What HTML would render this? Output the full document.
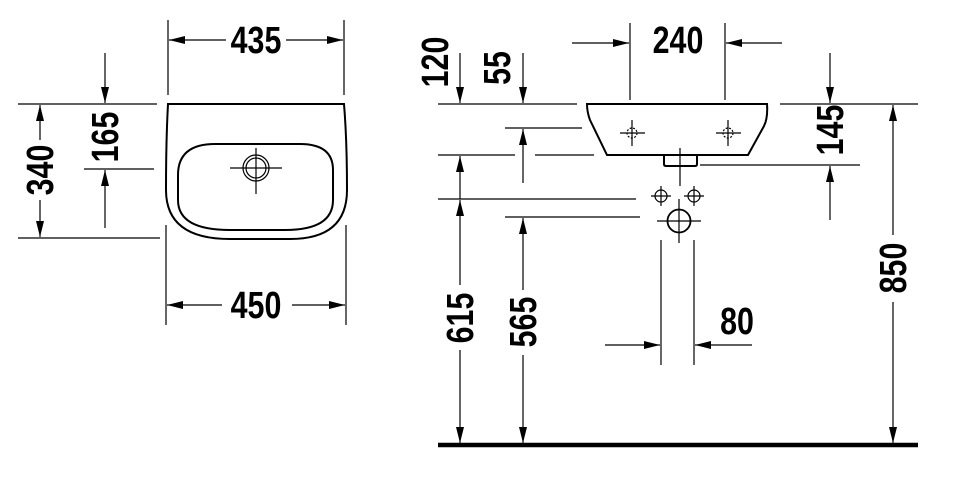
<!DOCTYPE html>
<html><head><meta charset="utf-8"><style>
html,body{margin:0;padding:0;background:#fff;}
svg{display:block;}
text{font-family:"Liberation Sans Narrow","Liberation Sans",sans-serif;font-weight:bold;font-size:38px;fill:#000;}
</style></head><body>
<svg width="960" height="488" viewBox="0 0 960 488" xmlns="http://www.w3.org/2000/svg">
<defs>
<marker id="a" viewBox="0 0 16 8" refX="16" refY="4" markerWidth="16" markerHeight="8" markerUnits="userSpaceOnUse" orient="auto">
<path d="M0,0 L16,4 L0,8 Z" fill="#000"/></marker>
</defs>
<g stroke="#000" stroke-width="1.2" fill="none">
<line x1="168" y1="20" x2="168" y2="95"/><line x1="344" y1="20" x2="344" y2="95"/>
<line x1="226" y1="40" x2="169" y2="40" marker-end="url(#a)"/>
<line x1="286" y1="40" x2="343" y2="40" marker-end="url(#a)"/>
<line x1="166" y1="225" x2="166" y2="325"/><line x1="346" y1="225" x2="346" y2="325"/>
<line x1="222" y1="305" x2="167" y2="305" marker-end="url(#a)"/>
<line x1="292" y1="305" x2="345" y2="305" marker-end="url(#a)"/>
<line x1="18" y1="104" x2="157" y2="104"/><line x1="18" y1="238" x2="160" y2="238"/>
<line x1="40" y1="140" x2="40" y2="105" marker-end="url(#a)"/>
<line x1="40" y1="200" x2="40" y2="237" marker-end="url(#a)"/>
<line x1="105" y1="53" x2="105" y2="103" marker-end="url(#a)"/>
<line x1="84" y1="169" x2="154" y2="169"/>
<line x1="105" y1="228" x2="105" y2="170" marker-end="url(#a)"/>
<path stroke-width="2" d="M168,104 L344,104 Q347,140 347,190 Q347,239 290,239 L230,239 Q166,239 166,190 Q166,140 168,104 Z"/>
<path stroke-width="2" d="M215,144 Q178,144 178,175 L178,200 Q178,230 230,230 L285,230 Q333,230 333,200 L333,170 Q333,144 300,144 Z"/>
<circle cx="256" cy="168" r="13"/><circle cx="256" cy="168" r="10"/>
<line x1="230" y1="168" x2="282" y2="168"/><line x1="256" y1="148" x2="256" y2="194"/>

<line x1="630" y1="23" x2="630" y2="100"/><line x1="725" y1="23" x2="725" y2="100"/>
<line x1="572" y1="43" x2="629" y2="43" marker-end="url(#a)"/>
<line x1="782" y1="43" x2="726" y2="43" marker-end="url(#a)"/>
<path stroke-width="2" d="M587,104 L767,104 Q768,118 764,126 L748,155 L607,155 L590,120 Q587,112 587,104 Z"/>
<path stroke-width="2" d="M664,155 L664,164 Q664,166 666,166 L695,166 Q697,166 697,164 L697,155"/>
<line x1="680" y1="148" x2="680" y2="186"/>
<line x1="620" y1="133" x2="645" y2="133"/><line x1="632" y1="120" x2="632" y2="146"/>
<line x1="716" y1="133" x2="741" y2="133"/><line x1="728" y1="120" x2="728" y2="146"/>
<circle cx="632" cy="133" r="5" stroke-dasharray="2,1.5"/><circle cx="728" cy="133" r="5" stroke-dasharray="2,1.5"/>
<line x1="438" y1="104" x2="577" y2="104"/><line x1="780" y1="104" x2="918" y2="104"/>
<line x1="505" y1="128" x2="582" y2="128"/>
<line x1="438" y1="155" x2="515" y2="155"/><line x1="535" y1="155" x2="594" y2="155"/>
<line x1="700" y1="165" x2="860" y2="165"/>
<line x1="438" y1="199" x2="636" y2="199"/>
<line x1="505" y1="217" x2="640" y2="217"/>
<line x1="460" y1="53" x2="460" y2="103" marker-end="url(#a)"/>
<line x1="460" y1="199" x2="460" y2="156" marker-end="url(#a)"/>
<line x1="523" y1="53" x2="523" y2="103" marker-end="url(#a)"/>
<line x1="523" y1="183" x2="523" y2="129" marker-end="url(#a)"/>
<line x1="830" y1="53" x2="830" y2="103" marker-end="url(#a)"/>
<line x1="830" y1="220" x2="830" y2="166" marker-end="url(#a)"/>
<line x1="893" y1="235" x2="893" y2="105" marker-end="url(#a)"/>
<line x1="893" y1="302" x2="893" y2="443" marker-end="url(#a)"/>
<line x1="460" y1="285" x2="460" y2="200" marker-end="url(#a)"/>
<line x1="460" y1="350" x2="460" y2="443" marker-end="url(#a)"/>
<line x1="523" y1="290" x2="523" y2="218" marker-end="url(#a)"/>
<line x1="523" y1="355" x2="523" y2="443" marker-end="url(#a)"/>
<line x1="661" y1="240" x2="661" y2="365"/><line x1="694" y1="240" x2="694" y2="365"/>
<line x1="605" y1="345" x2="660" y2="345" marker-end="url(#a)"/>
<line x1="752" y1="345" x2="695" y2="345" marker-end="url(#a)"/>
<circle cx="661" cy="196" r="6"/><line x1="651" y1="196" x2="671" y2="196"/><line x1="661" y1="186" x2="661" y2="206"/>
<circle cx="694" cy="196" r="6"/><line x1="684" y1="196" x2="704" y2="196"/><line x1="694" y1="186" x2="694" y2="206"/>
<circle cx="679" cy="221" r="11.5" stroke-width="1.8"/><line x1="657" y1="221" x2="701" y2="221"/><line x1="679" y1="199" x2="679" y2="243"/>
<line x1="438" y1="445" x2="918" y2="445" stroke-width="4.5"/>
</g>
<text transform="translate(256,53) scale(0.8,1)" text-anchor="middle">435</text>
<text transform="translate(256,318) scale(0.8,1)" text-anchor="middle">450</text>
<text transform="translate(678,53) scale(0.8,1)" text-anchor="middle">240</text>
<text transform="translate(737,334) scale(0.8,1)" text-anchor="middle">80</text>
<text transform="translate(53,170) rotate(-90) scale(0.8,1)" text-anchor="middle">340</text>
<text transform="translate(118,137) rotate(-90) scale(0.8,1)" text-anchor="middle">165</text>
<text transform="translate(448,62) rotate(-90) scale(0.8,1)" text-anchor="middle">120</text>
<text transform="translate(510,68) rotate(-90) scale(0.8,1)" text-anchor="middle">55</text>
<text transform="translate(843,130) rotate(-90) scale(0.8,1)" text-anchor="middle">145</text>
<text transform="translate(906,268) rotate(-90) scale(0.8,1)" text-anchor="middle">850</text>
<text transform="translate(473,318) rotate(-90) scale(0.8,1)" text-anchor="middle">615</text>
<text transform="translate(536,322) rotate(-90) scale(0.8,1)" text-anchor="middle">565</text>
</svg>
</body></html>
